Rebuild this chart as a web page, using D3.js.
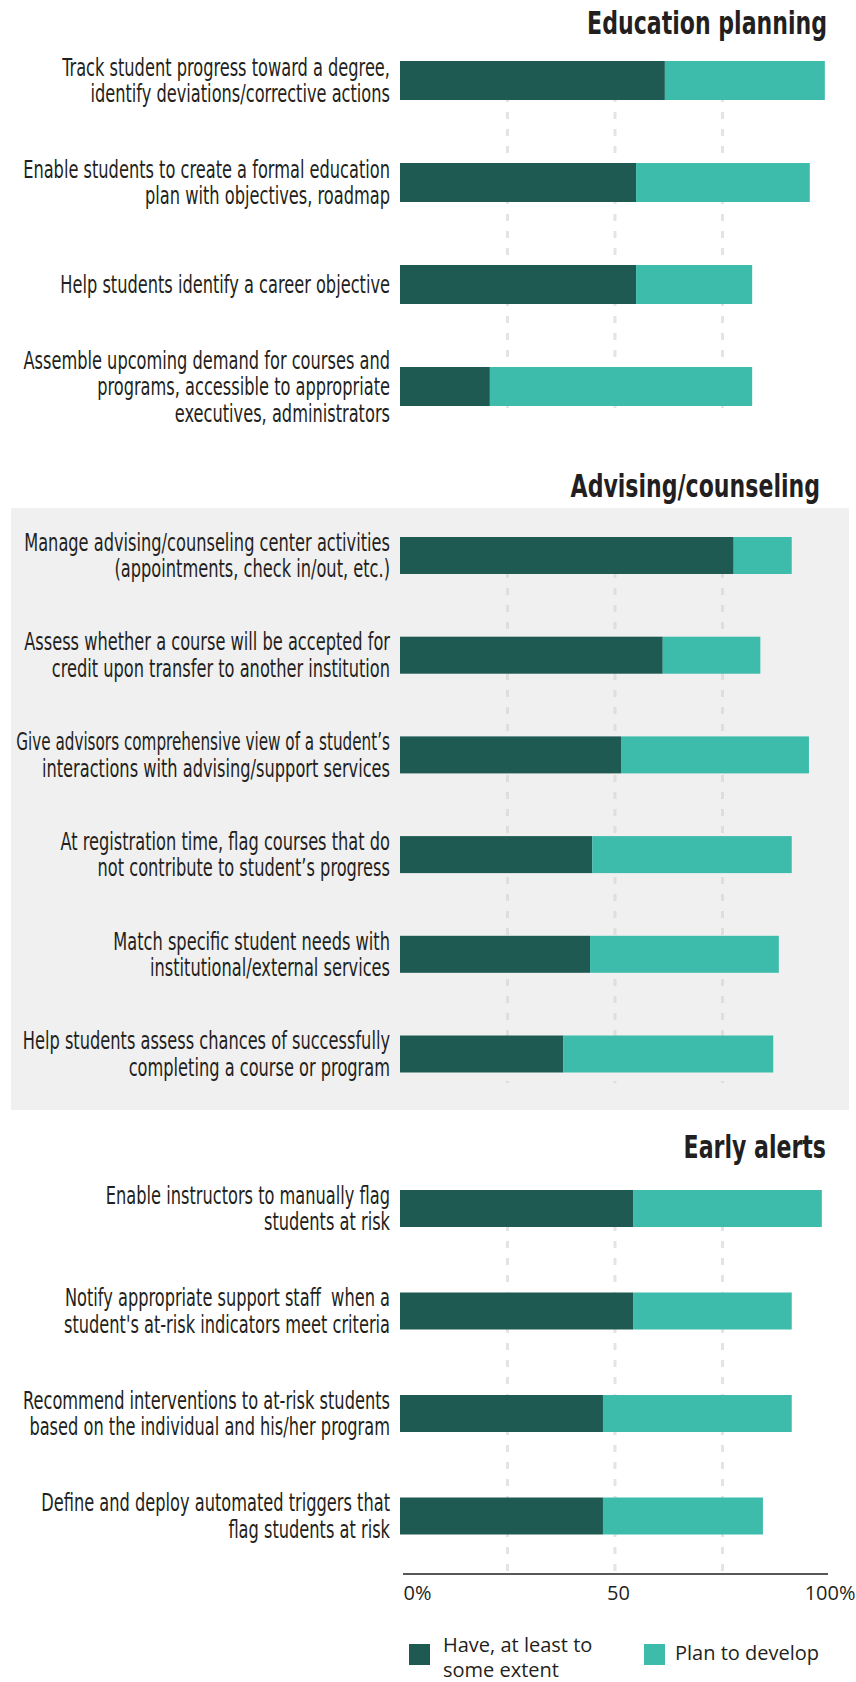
<!DOCTYPE html>
<html>
<head>
<meta charset="utf-8">
<script src="https://cdn.jsdelivr.net/npm/d3@7"></script>
<style>
    body { margin: 0; background: #fff; }
    svg { display: block; }
    .lbl { font-family: "Liberation Sans Narrow", "Arial Narrow", "DejaVu Sans Condensed", sans-serif; font-size: 25px; fill: #231f20; white-space: pre; }
    .ttl { font-family: "Liberation Sans Narrow", "Arial Narrow", "DejaVu Sans Condensed", sans-serif; font-size: 32px; font-weight: bold; fill: #231f20; }
    .axis text, .leg { font-family: "Open Sans", sans-serif; font-size: 20px; fill: #231f20; }
</style>
</head>
<body>
<div id="chart"></div>
<script>
// Education planning
var eduLabels = [
    "Track student progress toward a degree,\nidentify deviations/corrective actions",
    "Enable students to create a formal education\nplan with objectives, roadmap",
    "Help students identify a career objective",
    "Assemble upcoming demand for courses and\nprograms, accessible to appropriate\nexecutives, administrators"
];
var eduHave = [61.6, 54.9, 54.9, 20.9];
var eduPlan = [37.2, 40.4, 27.0, 61.0];

// Advising/counseling
var advLabels = [
    "Manage advising/counseling center activities\n(appointments, check in/out, etc.)",
    "Assess whether a course will be accepted for\ncredit upon transfer to another institution",
    "Give advisors comprehensive view of a student\u2019s\ninteractions with advising/support services",
    "At registration time, flag courses that do\nnot contribute to student\u2019s progress",
    "Match specific student needs with\ninstitutional/external services",
    "Help students assess chances of successfully\ncompleting a course or program"
];
var advHave = [77.6, 61.1, 51.4, 44.7, 44.2, 38.0];
var advPlan = [13.5, 22.7, 43.7, 46.4, 43.9, 48.8];

// Early alerts
var alertLabels = [
    "Enable instructors to manually flag\nstudents at risk",
    "Notify appropriate support staff  when a\nstudent's at-risk indicators meet criteria",
    "Recommend interventions to at-risk students\nbased on the individual and his/her program",
    "Define and deploy automated triggers that\nflag students at risk"
];
var alertHave = [54.2, 54.2, 47.2, 47.2];
var alertPlan = [43.9, 36.9, 43.9, 37.2];

var seriesKeys = ["have", "plan"];
var seriesNames = ["Have, at least to\nsome extent", "Plan to develop"];
var tickValues = [0, 50, 100];
var gridValues = [25, 50, 75];

var colors = { have: "#1f5a52", plan: "#3dbbab" };

var W = 856, H = 1682;
var labelRight = 390, lineH = 26.5, capH = 17;
var axisY = 1574;

var sections = [
    { title: "Education planning", labels: eduLabels, have: eduHave, plan: eduPlan,
      titleX: 827, titleY: 34, first: 80.5, last: 386.5, barH: 39, gridEnd: 417 },
    { title: "Advising/counseling", labels: advLabels, have: advHave, plan: advPlan,
      titleX: 820, titleY: 497, first: 555.5, last: 1054, barH: 37, gridEnd: 1083,
      bg: { x: 11, y: 508, w: 838, h: 602 } },
    { title: "Early alerts", labels: alertLabels, have: alertHave, plan: alertPlan,
      titleX: 826, titleY: 1158, first: 1208.5, last: 1516, barH: 37, gridEnd: axisY }
];

var x = d3.scaleLinear().domain([0, 100]).range([400, 830]);
var color = d3.scaleOrdinal().domain(seriesKeys).range([colors.have, colors.plan]);

var svg = d3.select("#chart").append("svg")
    .attr("width", W)
    .attr("height", H);

// measure text so the fallback fonts squeeze to the reference widths
function measure(cls, str) {
    var t = svg.append("text").attr("class", cls).text(str);
    var w = t.node().getComputedTextLength();
    t.remove();
    return w;
}
var labelScale = Math.min(1, 328 / measure("lbl", "Track student progress toward a degree,"));
var titleScale = Math.min(1, 240 / measure("ttl", "Education planning"));
var maxLabelW = labelRight - 16;

var stack = d3.stack().keys(seriesKeys);

sections.forEach(function (sec) {
    var g = svg.append("g");

    if (sec.bg) {
        g.append("rect")
            .attr("x", sec.bg.x).attr("y", sec.bg.y)
            .attr("width", sec.bg.w).attr("height", sec.bg.h)
            .attr("fill", "#f0f0f0");
    }

    var rows = sec.labels.map(function (l, i) {
        return { label: l, have: sec.have[i], plan: sec.plan[i] };
    });

    var y = d3.scalePoint()
        .domain(rows.map(function (d) { return d.label; }))
        .range([sec.first, sec.last]);

    // dashed gridlines
    g.selectAll(".grid")
        .data(gridValues)
        .enter().append("line")
        .attr("class", "grid")
        .attr("x1", function (d) { return x(d); })
        .attr("x2", function (d) { return x(d); })
        .attr("y1", sec.first - sec.barH / 2)
        .attr("y2", sec.gridEnd)
        .attr("stroke", sec.bg ? "#dedede" : "#e4e4e4")
        .attr("stroke-width", 3)
        .attr("stroke-dasharray", "7,10");

    // title
    g.append("g")
        .attr("transform", "translate(" + sec.titleX + "," + sec.titleY + ") scale(" + titleScale + ",1)")
        .append("text")
        .attr("class", "ttl")
        .attr("text-anchor", "end")
        .text(sec.title);

    // stacked bars
    var layers = stack(rows);
    g.selectAll(".layer")
        .data(layers)
        .enter().append("g")
        .attr("class", "layer")
        .attr("fill", function (d) { return color(d.key); })
        .selectAll("rect")
        .data(function (d) { return d; })
        .enter().append("rect")
        .attr("x", function (d) { return x(d[0]); })
        .attr("width", function (d) { return x(d[1]) - x(d[0]); })
        .attr("y", function (d) { return y(d.data.label) - sec.barH / 2; })
        .attr("height", sec.barH);

    // row labels, one scaled group per line
    g.selectAll(".rowlabel")
        .data(rows)
        .enter().append("g")
        .attr("class", "rowlabel")
        .attr("transform", function (d) { return "translate(" + labelRight + "," + y(d.label) + ")"; })
        .each(function (d) {
            var lines = d.label.split("\n");
            var grp = d3.select(this);
            var y0 = capH / 2 - (lines.length - 1) * lineH / 2;
            lines.forEach(function (ln, i) {
                var lg = grp.append("g");
                var t = lg.append("text")
                    .attr("class", "lbl")
                    .attr("text-anchor", "end")
                    .text(ln);
                var w = t.node().getComputedTextLength();
                var s = Math.min(labelScale, maxLabelW / w);
                lg.attr("transform", "translate(0," + (y0 + i * lineH) + ") scale(" + s + ",1)");
            });
        });
});

// x axis
var xAxis = d3.axisBottom(x)
    .tickValues(tickValues)
    .tickSize(0)
    .tickPadding(12)
    .tickFormat(function (d) { return d === 50 ? "50" : d + "%"; });

var ax = svg.append("g")
    .attr("class", "axis")
    .attr("transform", "translate(0," + axisY + ")")
    .call(xAxis);
ax.select(".domain").attr("stroke", "#231f20").attr("stroke-width", 1.5)
    .attr("d", "M" + (x(0) + 3) + ",0H" + (x(100) - 2));
ax.selectAll(".tick text")
    .attr("text-anchor", function (d) { return d === 0 ? "start" : d === 100 ? "end" : "middle"; })
    .attr("dx", function (d) { return d === 0 ? 3 : d === 100 ? 25 : 3; });

// legend
var legend = svg.append("g")
    .selectAll(".legitem")
    .data(seriesKeys)
    .enter().append("g")
    .attr("class", "legitem")
    .attr("transform", function (d, i) { return "translate(" + (i === 0 ? 409 : 644) + ",1644)"; });

legend.append("rect")
    .attr("width", 21)
    .attr("height", 21)
    .attr("fill", function (d) { return color(d); });

legend.append("text")
    .attr("class", "leg")
    .each(function (d, i) {
        var lines = seriesNames[i].split("\n");
        var t = d3.select(this);
        var y0 = lines.length > 1 ? 8 : 16;
        lines.forEach(function (ln, j) {
            t.append("tspan").attr("x", i === 0 ? 34 : 31).attr("y", y0 + j * 25).text(ln);
        });
    });
</script>
</body>
</html>
